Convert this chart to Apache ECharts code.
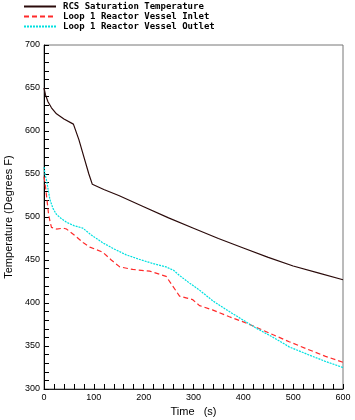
<!DOCTYPE html>
<html><head><meta charset="utf-8">
<script src="https://cdn.jsdelivr.net/npm/echarts@6/dist/echarts.min.js"></script>
<style>html,body{margin:0;padding:0;background:#fff}#c{width:355px;height:420px}</style>
</head><body><div id="c"></div>
<script>
const satTime = [0,3,8,15,25,40,59,70,80,90,97,120,150,200,250,300,350,400,450,500,550,600];
const satTemp = [650,642,634,627,620,614,608,590,570,550,538,532,525,512,499,487,475,464,453,443,435,427];
const inletTime = [0,3,6,9,12,15,19,25,39,45,52,65,79,92,105,118,135,152,178,212,245,258,272,285,298,312,338,372,400,425,460,492,530,565,600];
const inletTemp = [547,535,520,504,495,488,486,486,487,486,483,477,470,465,462,459,450,442,439,437,431,420,408,406,404,397,392,384,378,372,363,355,346,338,331];
const outletTime = [0,2,5,8,12,18,25,35,45,60,78,95,118,140,165,190,218,245,260,272,290,312,340,372,400,425,460,492,530,565,600];
const outletTemp = [558,550,543,533,520,510,503,498,494,490,487,479,470,463,456,451,446,442,438,432,424,415,402,390,380,371,360,349,340,332,325];
const seriesNames = ['RCS Saturation Temperature','Loop 1 Reactor Vessel Inlet','Loop 1 Reactor Vessel Outlet'];

const pair = (t, v) => t.map((x, i) => [x, v[i]]);
const chart = echarts.init(document.getElementById('c'));
const tickFont = {fontFamily:'Liberation Sans Narrow, Liberation Sans, sans-serif', fontSize:9, color:'#000'};
chart.setOption({
  animation:false,
  backgroundColor:'#fff',
  legend:{
    orient:'vertical', left:23, top:2, padding:0, itemWidth:32, itemHeight:8, itemGap:1,
    itemStyle:{opacity:0},
    textStyle:{fontFamily:'DejaVu Sans Mono', fontSize:9, fontWeight:'bold', color:'#000', padding:[0,0,0,2]},
    data:seriesNames
  },
  grid:{left:44, right:12, top:45, bottom:31, show:true, borderColor:'#777', borderWidth:1, outerBoundsMode:'none', containLabel:false},
  xAxis:{
    type:'value', min:0, max:600, interval:20,
    name:'Time   (s)', nameLocation:'middle', nameGap:17,
    nameTextStyle:{fontFamily:'Liberation Sans Narrow, Liberation Sans, sans-serif', fontSize:11, color:'#000'},
    axisLine:{show:true, lineStyle:{color:'#222', width:1}},
    axisTick:{show:true, inside:true, length:5, lineStyle:{color:'#000'}},
    axisLabel:{...tickFont, margin:4, formatter:v=> v%100===0 ? String(v) : ''},
    splitLine:{show:false}
  },
  yAxis:{
    type:'value', min:300, max:700, interval:10,
    name:'Temperature (Degrees F)', nameLocation:'middle', nameGap:30,
    nameTextStyle:{fontFamily:'Liberation Sans Narrow, Liberation Sans, sans-serif', fontSize:11, color:'#000'},
    axisLine:{show:true, lineStyle:{color:'#000', width:1}},
    axisTick:{show:true, inside:true, length:5, lineStyle:{color:'#000'}},
    axisLabel:{...tickFont, margin:4, formatter:v=> v%50===0 ? String(v) : ''},
    splitLine:{show:false}
  },
  series:[
    {name:seriesNames[0], type:'line', symbol:'none', data:pair(satTime,satTemp),
     lineStyle:{color:'#2a0a0a', width:1.2}, itemStyle:{color:'#2a0a0a'}},
    {name:seriesNames[1], type:'line', symbol:'none', data:pair(inletTime,inletTemp),
     lineStyle:{color:'#ff2a2a', width:1.2, type:[5,3]}, itemStyle:{color:'#ff2a2a'}},
    {name:seriesNames[2], type:'line', symbol:'none', data:pair(outletTime,outletTemp),
     lineStyle:{color:'#00e0e0', width:1.2, type:[2,1]}, itemStyle:{color:'#00e0e0'}}
  ]
});
</script></body></html>
